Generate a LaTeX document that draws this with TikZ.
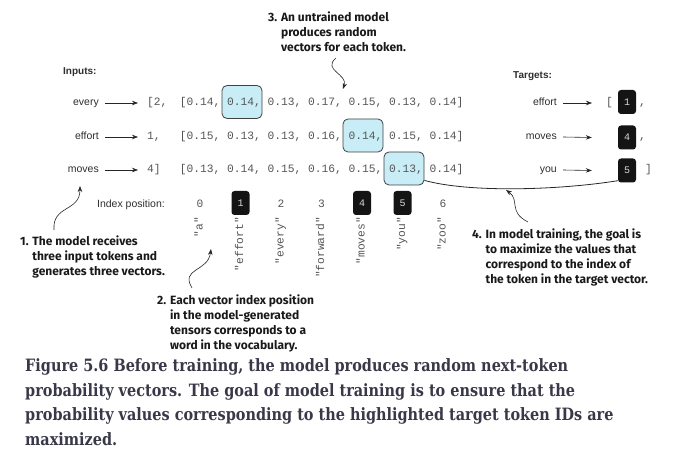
\documentclass[tikz,border=0pt]{standalone}
\usepackage{fontspec}
\setmainfont{Liberation Sans}
\newfontfamily\monofont{Liberation Mono}
\newfontfamily\annfont{Fira Sans}
\newfontfamily\capfont[FakeStretch=0.85]{DejaVu Serif}
\usetikzlibrary{arrows.meta}
\definecolor{txt}{HTML}{2E2E2E}
\definecolor{monoc}{HTML}{555555}
\definecolor{hl}{HTML}{C9EDF7}
\definecolor{capc}{HTML}{383848}
\tikzset{
  lab/.style={font=\fontsize{10.5}{12}\selectfont, text=txt, inner sep=0pt, text height=7.5pt, text depth=2.5pt},
  hdr/.style={font=\bfseries\fontsize{10}{12}\selectfont, text=txt, inner sep=0pt, anchor=west},
  mono/.style={font=\monofont\fontsize{11.25}{12}\selectfont, text=monoc, inner sep=0pt, text height=7.5pt, text depth=2.5pt},
  hlbox/.style={draw=black!75, fill=hl, rounded corners=5pt, minimum width=40pt, minimum height=33pt, line width=0.8pt, inner sep=0pt},
  tokbox/.style={fill=black!92, rounded corners=3pt, minimum width=18pt, minimum height=24pt, text=white!85!black, font=\monofont\fontsize{10}{12}\selectfont, inner sep=0pt},
  arr/.style={-{Stealth[length=6pt,width=4.5pt]}, line width=0.6pt, draw=black!85},
  curvearr/.style={-{Stealth[length=6pt,width=4.5pt]}, line width=0.6pt, draw=black!85},
  ann/.style={font=\annfont\bfseries\fontsize{12}{15}\selectfont, text=black!90, inner sep=0pt, anchor=base west},
  capt/.style={font=\capfont\bfseries\fontsize{17}{24.5}\selectfont, text=capc, inner sep=0pt, anchor=base west, align=left}
}
\begin{document}
\begin{tikzpicture}[x=1pt,y=-1pt]
\useasboundingbox (0,0) rectangle (677,462);

% headers
\node[hdr] (inputs) at (63,72) {Inputs:};
\node[hdr] (targets) at (513,76) {Targets:};

% highlight boxes (behind text)
\node[hlbox] (h1) at (242,102) {};
\node[hlbox] (h2) at (363,135.5) {};
\node[hlbox] (h3) at (404,168.5) {};

% input rows
\node[lab, anchor=east] (w1) at (99,103) {every};
\node[lab, anchor=east] (w2) at (99,137) {effort};
\node[lab, anchor=east] (w3) at (99,170) {moves};
\node[mono, anchor=west] (n1) at (147,103) {[2,};
\node[mono, anchor=west] (n2) at (147,137) {1,};
\node[mono, anchor=west] (n3) at (147,170) {4]};
\draw[arr] ([xshift=6pt]w1.east) -- ([xshift=-9pt]n1.west);
\draw[arr] ([xshift=6pt]w2.east) -- ([xshift=-9pt]n2.west);
\draw[arr] ([xshift=6pt]w3.east) -- ([xshift=-9pt]n3.west);

\node[mono, anchor=west] (v1) at (179.75,103) {[0.14, 0.14, 0.13, 0.17, 0.15, 0.13, 0.14]};
\node[mono, anchor=west] (v2) at (179.75,137) {[0.15, 0.13, 0.13, 0.16, 0.14, 0.15, 0.14]};
\node[mono, anchor=west] (v3) at (179.75,170) {[0.13, 0.14, 0.15, 0.16, 0.15, 0.13, 0.14]};

% targets
\node[lab, anchor=east] (t1) at (557,103) {effort};
\node[lab, anchor=east] (t2) at (557,137) {moves};
\node[lab, anchor=east] (t3) at (557,170) {you};
\node[mono, anchor=west] (lb) at (606,103) {[};
\node[tokbox] (b1) at (627,102) {1};
\node[tokbox] (b2) at (627,137.5) {4};
\node[tokbox] (b3) at (627,170.5) {5};
\node[mono, anchor=west] (c1) at (639,103) {,};
\node[mono, anchor=west] (c2) at (639,137) {,};
\node[mono, anchor=west] (rb) at (645,170) {]};
\draw[arr] ([xshift=6pt]t1.east) -- ([xshift=-14pt]lb.west);
\draw[arr] ([xshift=6pt]t2.east) -- ([xshift=-26pt]b2.west);
\draw[arr] ([xshift=6pt]t3.east) -- ([xshift=-26pt]b3.west);

% connecting curve
\draw[line width=0.8pt, draw=black!85] ([yshift=5pt]h3.south east) .. controls (470,193) and (560,190) .. ([yshift=2pt]b3.south west);

% index row
\node[lab, anchor=east] (idx) at (165,205) {Index position:};
\node[mono] (i0) at (200,205) {0};
\node[tokbox] (i1) at (240.5,203) {1};
\node[mono] (i2) at (281,205) {2};
\node[mono] (i3) at (321.5,205) {3};
\node[tokbox] (i4) at (362,203) {4};
\node[tokbox] (i5) at (402.5,203) {5};
\node[mono] (i6) at (443,205) {6};

\node[mono, rotate=90, anchor=east] (r0) at (200,217) {"a"};
\node[mono, rotate=90, anchor=east] (r1) at (240.5,217) {"effort"};
\node[mono, rotate=90, anchor=east] (r2) at (281,217) {"every"};
\node[mono, rotate=90, anchor=east] (r3) at (321.5,217) {"forward"};
\node[mono, rotate=90, anchor=east] (r4) at (362,217) {"moves"};
\node[mono, rotate=90, anchor=east] (r5) at (402.5,217) {"you"};
\node[mono, rotate=90, anchor=east] (r6) at (443,217) {"zoo"};

% annotations
\node[ann] (a3) at (268,22) {\begin{tabular}[t]{@{}l@{ }l@{}}3. & An untrained model\\ & produces random\\ & vectors for each token.\end{tabular}};
\node[ann] (a1) at (20,246) {\begin{tabular}[t]{@{}l@{ }l@{}}1. & The model receives\\ & three input tokens and\\ & generates three vectors.\end{tabular}};
\node[ann] (a2) at (157,305) {\begin{tabular}[t]{@{}l@{ }l@{}}2. & Each vector index position\\ & in the model-generated\\ & tensors corresponds to a\\ & word in the vocabulary.\end{tabular}};
\node[ann] (a4) at (472,239) {\begin{tabular}[t]{@{}l@{ }l@{}}4. & In model training, the goal is\\ & to maximize the values that\\ & correspond to the index of\\ & the token in the target vector.\end{tabular}};

\coordinate (a3s) at (336,58);
\coordinate (a1s) at (54,230);
\coordinate (a2s) at (192,288);
\coordinate (a4s) at (528,222);
\coordinate (a3e) at (343,89);
\coordinate (a1e) at (80,186);
\coordinate (a2e) at (211,249);
\coordinate (a4e) at (506,190);
\draw[curvearr] (a3s) .. controls (322,70) and (348,74) .. (a3e);
\draw[curvearr] (a1s) .. controls (52,205) and (80,212) .. (a1e);
\draw[curvearr] (a2s) .. controls (180,268) and (208,272) .. (a2e);
\draw[curvearr] (a4s) .. controls (508,212) and (520,200) .. (a4e);

% caption
\node[capt] (cap) at (25,445) {Figure 5.6 Before training, the model produces random next-token\\probability vectors. The goal of model training is to ensure that the\\probability values corresponding to the highlighted target token IDs are\\maximized.};
\end{tikzpicture}
\end{document}
